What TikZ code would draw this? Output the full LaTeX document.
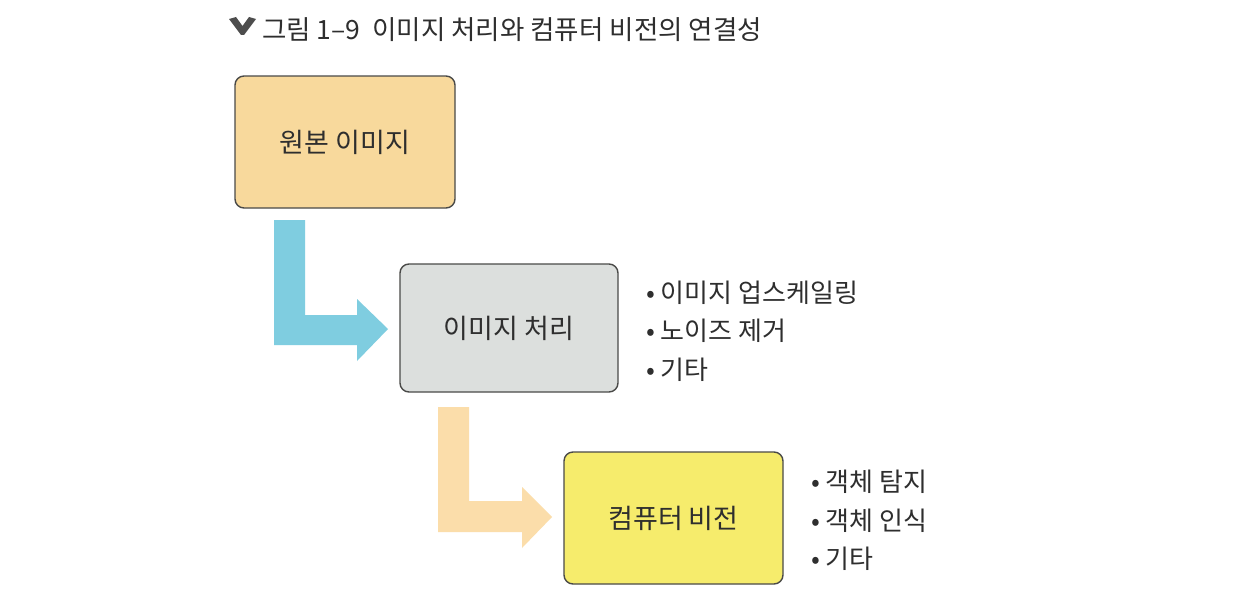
\documentclass[tikz,border=0pt]{standalone}
\usepackage{fontspec}
\setmainfont{Noto Sans CJK KR}
\definecolor{boxA}{HTML}{F8D99C}
\definecolor{boxB}{HTML}{DCDFDD}
\definecolor{boxC}{HTML}{F6EC6C}
\definecolor{arrA}{HTML}{7FCDE0}
\definecolor{arrB}{HTML}{FBDDAA}
\definecolor{edge}{HTML}{4A4A48}
\definecolor{txt}{HTML}{2E2E2E}
\begin{document}
\begin{tikzpicture}[x=1pt,y=-1pt,
  stagebox/.style={draw=edge,line width=1.4pt,rounded corners=9pt,text=txt,
    font=\fontsize{27}{31}\selectfont,inner sep=0pt},
  bulletitem/.style={anchor=west,text=txt,font=\fontsize{26}{30}\selectfont,inner sep=0pt},
  titletext/.style={anchor=west,text=txt,font=\fontsize{26.5}{30}\selectfont,inner sep=0pt}]
\useasboundingbox (0,0) rectangle (1249,594);
\fill[white] (0,0) rectangle (1249,594);
% title
\fill[txt!85!white] (229,19) -- (236,17) -- (242.5,26) -- (249,17) -- (256,19) -- (244,35) -- (241,35) -- cycle;
\node[titletext] (title) at (262,30) {그림 1–9 \ 이미지 처리와 컴퓨터 비전의 연결성};
% boxes
\node[stagebox,fill=boxA,minimum width=220pt,minimum height=132pt] (orig) at (345,142) {원본 이미지};
\node[stagebox,fill=boxB,minimum width=218pt,minimum height=128pt] (proc) at (509,328) {이미지 처리};
\node[stagebox,fill=boxC,minimum width=219pt,minimum height=132pt] (cv) at (673.5,518) {컴퓨터 비전};
% L arrows
\fill[arrA] (274,220) -- (305,220) -- (305,315) -- (357,315) -- (357,299) -- (388,329)
  -- (357,361) -- (357,345) -- (274,345) -- cycle;
\fill[arrB] (438,407) -- (469,407) -- (469,501) -- (522,501) -- (522,487) -- (552,517)
  -- (522,548) -- (522,532) -- (438,532) -- cycle;
% bullet lists
\node[bulletitem] (p1) at (646,293) {• 이미지 업스케일링};
\node[bulletitem] (p2) at (646,331) {• 노이즈 제거};
\node[bulletitem] (p3) at (646,370) {• 기타};
\node[bulletitem] (c1) at (811,482) {• 객체 탐지};
\node[bulletitem] (c2) at (811,521) {• 객체 인식};
\node[bulletitem] (c3) at (811,559) {• 기타};
\end{tikzpicture}
\end{document}
